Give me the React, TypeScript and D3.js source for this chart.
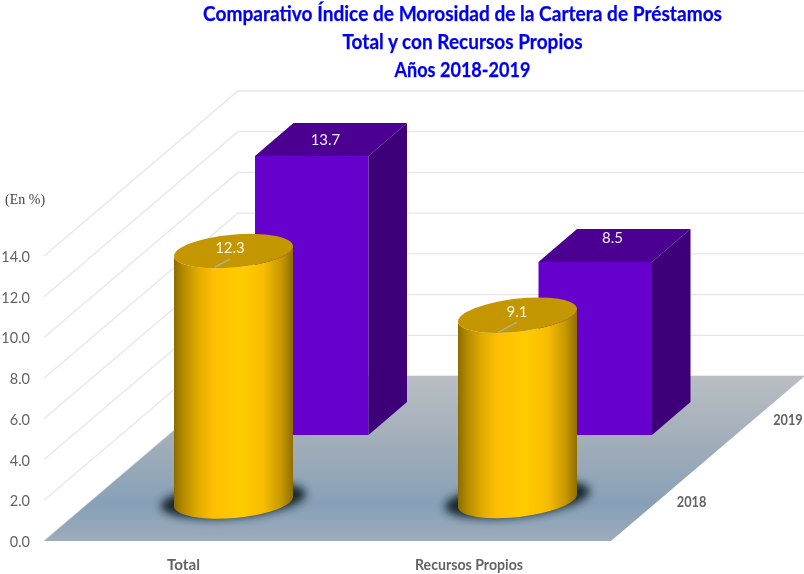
import React from "react";
import * as d3 from "d3";

const titleLines = [
  "Comparativo Índice de Morosidad de la Cartera de Préstamos",
  "Total y con Recursos Propios",
  "Años 2018-2019",
];
const categories = ["Total", "Recursos Propios"];
const seriesNames = ["2018", "2019"];
const values2018 = [12.3, 9.1];
const values2019 = [13.7, 8.5];
const yTicks = [0, 2, 4, 6, 8, 10, 12, 14];

const W = 804, H = 574;
const FRONT_Y = 541, TOP_Y = 256;
const FLOOR_LEFT = 44, FLOOR_RIGHT = 611;
const DX = 194, DY = -165;

const titleWidths = [519, 240, 136];
const catLabelX = [167, 415];
const catLabelW = [33, 108];
const boxLabelStyle = [{ dx: 70.5, dy: -11 }, { dx: 74, dy: -19 }];
const cylLabelStyle = [{ dx: -3.5, dy: 2 }, { dx: -0.5, dy: 2 }];
const leaderStyle = [[-18.5, 16, -3.5, 8], [-19.5, 17, -0.5, 7]];

const y = d3.scaleLinear().domain([0, 14]).range([0, FRONT_Y - TOP_Y]);
const xCat = d3.scaleBand<string>().domain(categories).range([FLOOR_LEFT, FLOOR_RIGHT]).paddingInner(0);
const depth = d3.scalePoint<string>().domain(seriesNames).range([0.236, 0.733]);

const lineGen = d3.line<[number, number]>();
const poly = (pts: [number, number][]) => lineGen(pts) + "Z";

const catOffset = (i: number) => xCat(categories[i])! - FLOOR_LEFT;

function Box({ i }: { i: number }) {
  const v = values2019[i];
  const w = 113.5, ddx = 38.5, ddy = -33;
  const x0 = 255 + catOffset(i) * (283.5 / xCat.bandwidth());
  const base = 435;
  const top = base - y(v);
  const x1 = x0 + w;
  return (
    <g>
      <path d={poly([[x0, top], [x1, top], [x1, base], [x0, base]])} fill="#6600cc" />
      <path d={poly([[x0, top], [x0 + ddx, top + ddy], [x1 + ddx, top + ddy], [x1, top]])} fill="#4b0091" />
      <path d={poly([[x1, top], [x1 + ddx, top + ddy], [x1 + ddx, base + ddy], [x1, base]])} fill="#3e0079" />
      <text
        x={x0 + boxLabelStyle[i].dx}
        y={top + boxLabelStyle[i].dy}
        textAnchor="middle"
        fontFamily="Lato"
        fontSize={15}
        fill="#f4eefb"
        filter="url(#soft)"
      >
        {v.toFixed(1)}
      </text>
    </g>
  );
}

function Shadow({ i }: { i: number }) {
  const rx = 59.5, ry = 16.5, tilt = i === 0 ? -5 : -6.5;
  const cx = 233.5 + catOffset(i) * (284 / xCat.bandwidth());
  const baseC = i === 0 ? 501.5 : 500.5;
  const rad = (tilt * Math.PI) / 180;
  return (
    <ellipse
      cx={cx}
      cy={baseC - 1.5}
      rx={rx / Math.cos(rad) + 13}
      ry={ry + 1}
      fill="#18252e"
      filter="url(#shadowBlur)"
      transform={`rotate(${tilt} ${cx} ${baseC})`}
    />
  );
}

function Cylinder({ i }: { i: number }) {
  const v = values2018[i];
  const rx = 59.5, ry = 16.5, tilt = i === 0 ? -5 : -6.5;
  const cx = 233.5 + catOffset(i) * (284 / xCat.bandwidth());
  const baseC = i === 0 ? 501.5 : 500.5;
  const topC = baseC - y(v);
  const rad = (tilt * Math.PI) / 180;
  const ex = rx, ey = rx * Math.tan(rad);
  const left: [number, number] = [cx - ex, topC - ey];
  const right: [number, number] = [cx + ex, topC + ey];
  const lb: [number, number] = [cx - ex, baseC - ey];
  const rb: [number, number] = [cx + ex, baseC + ey];
  const rxx = rx / Math.cos(rad);
  const body = `M${left[0]},${left[1]} L${lb[0]},${lb[1]} A${rxx},${ry} ${tilt} 0 0 ${rb[0]},${rb[1]} L${right[0]},${right[1]} A${rxx},${ry} ${tilt} 0 1 ${left[0]},${left[1]} Z`;
  const [lx1, ly1, lx2, ly2] = leaderStyle[i];
  return (
    <g>
      <path d={body} fill="url(#gold)" />
      <ellipse cx={cx} cy={topC} rx={rxx} ry={ry} fill="#c49700" transform={`rotate(${tilt} ${cx} ${topC})`} />
      <line x1={cx + lx1} y1={topC + ly1} x2={cx + lx2} y2={topC + ly2} stroke="#b5b0a0" strokeWidth={1.3} />
      <text
        x={cx + cylLabelStyle[i].dx}
        y={topC + cylLabelStyle[i].dy}
        textAnchor="middle"
        fontFamily="Lato"
        fontSize={15}
        fill="#f8f3dc"
        filter="url(#soft)"
      >
        {v.toFixed(1)}
      </text>
    </g>
  );
}

export default function App() {
  const textGrey = "#636363";
  return (
    <svg width={W} height={H} viewBox={`0 0 ${W} ${H}`} style={{ position: "absolute", left: 0, top: 0 }}>
      <defs>
        <linearGradient id="floor" x1="0" y1="0" x2="0" y2="1">
          <stop offset="0" stopColor="#b9bec3" />
          <stop offset="0.45" stopColor="#9eacb9" />
          <stop offset="0.78" stopColor="#87a0b7" />
          <stop offset="1" stopColor="#9cacba" />
        </linearGradient>
        <linearGradient id="gold" x1="0" y1="0" x2="1" y2="0">
          <stop offset="0" stopColor="#8c6c00" />
          <stop offset="0.08" stopColor="#b58c00" />
          <stop offset="0.2" stopColor="#e0ab00" />
          <stop offset="0.33" stopColor="#ffbf00" />
          <stop offset="0.55" stopColor="#ffcc00" />
          <stop offset="0.75" stopColor="#f7bd00" />
          <stop offset="0.9" stopColor="#c79900" />
          <stop offset="1" stopColor="#8f6e00" />
        </linearGradient>
        <filter id="shadowBlur" x="-20%" y="-60%" width="140%" height="220%">
          <feGaussianBlur stdDeviation="4.5" />
        </filter>
        <filter id="soft" x="-5%" y="-20%" width="110%" height="140%">
          <feGaussianBlur stdDeviation="0.35" />
        </filter>
      </defs>

      {yTicks.map((t) => {
        const yy = FRONT_Y - y(t);
        return (
          <polyline
            key={t}
            points={`${FLOOR_LEFT},${yy} ${FLOOR_LEFT + DX},${yy + DY} ${W},${yy + DY}`}
            fill="none"
            stroke="#e6e6e6"
            strokeWidth={1.3}
          />
        );
      })}

      <path
        d={poly([
          [FLOOR_LEFT, FRONT_Y],
          [FLOOR_RIGHT, FRONT_Y],
          [FLOOR_RIGHT + DX, FRONT_Y + DY],
          [FLOOR_LEFT + DX, FRONT_Y + DY],
        ])}
        fill="url(#floor)"
      />

      {categories.map((_, i) => (
        <Box key={i} i={i} />
      ))}
      {categories.map((_, i) => (
        <Shadow key={i} i={i} />
      ))}
      {categories.map((_, i) => (
        <Cylinder key={i} i={i} />
      ))}

      <g filter="url(#soft)">
        {titleLines.map((l, i) => (
          <text
            key={l}
            x={462.5 - titleWidths[i] / 2}
            y={21 + i * 28}
            textLength={titleWidths[i]}
            lengthAdjust="spacingAndGlyphs"
            fontFamily="Lato"
            fontWeight={700}
            fontSize={20}
            fill="#0000f0"
            stroke="#0000f0"
            strokeWidth={0.25}
          >
            {l}
          </text>
        ))}
        <text x={5} y={204} fontFamily="Liberation Serif" fontSize={14} fill="#444">
          (En %)
        </text>
        {yTicks.map((t) => (
          <text
            key={t}
            x={30}
            y={FRONT_Y - y(t) + 6}
            textAnchor="end"
            fontFamily="Lato"
            fontSize={14.5}
            fill={textGrey}
          >
            {t.toFixed(1)}
          </text>
        ))}
        {categories.map((c, i) => (
          <text
            key={c}
            x={catLabelX[i]}
            y={570}
            textLength={catLabelW[i]}
            lengthAdjust="spacingAndGlyphs"
            fontFamily="Lato"
            fontWeight={700}
            fontSize={15}
            fill={textGrey}
          >
            {c}
          </text>
        ))}
        {seriesNames.map((s) => (
          <text
            key={s}
            x={FLOOR_RIGHT + DX * depth(s)! + 20}
            y={FRONT_Y + DY * depth(s)! + 5}
            textLength={29.5}
            lengthAdjust="spacingAndGlyphs"
            fontFamily="Lato"
            fontWeight={700}
            fontSize={15}
            fill={textGrey}
          >
            {s}
          </text>
        ))}
      </g>
    </svg>
  );
}
